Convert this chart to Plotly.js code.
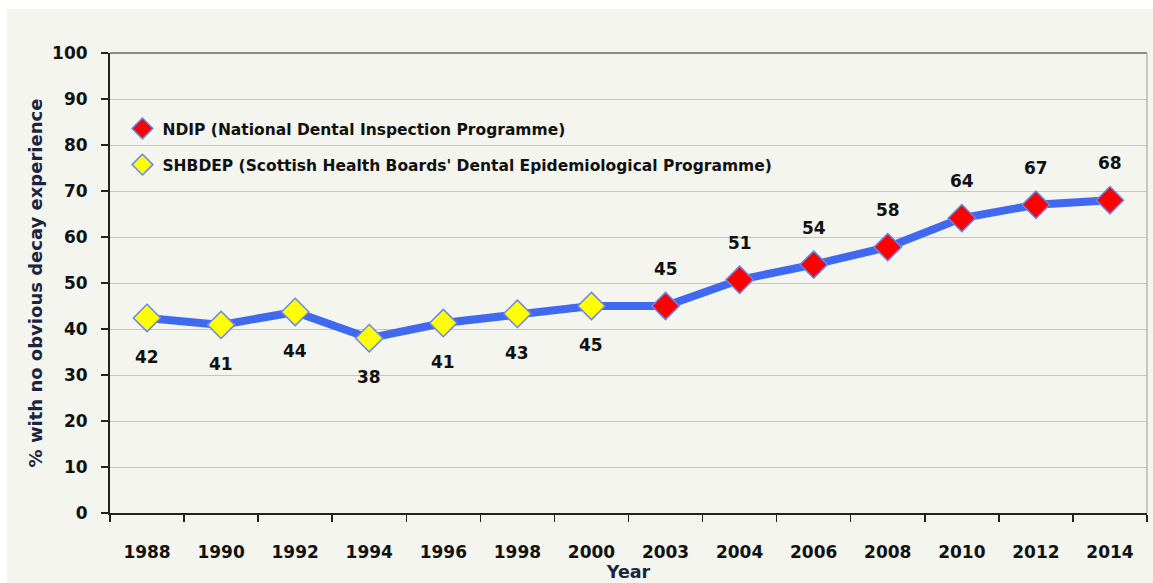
<!DOCTYPE html>
<html><head><meta charset="utf-8">
<script src="https://cdn.plot.ly/plotly-3.0.1.min.js"></script>
<style>
html,body{margin:0;padding:0;background:#ffffff;}
#chart{position:absolute;left:7px;top:9px;width:1146px;height:574px;}
</style></head>
<body><div id="chart"></div>
<script>
const years = ['1988','1990','1992','1994','1996','1998','2000','2003','2004','2006','2008','2010','2012','2014'];
const values = [42.4,40.9,43.7,38.0,41.3,43.3,45.0,45.0,50.7,54.0,57.8,64.1,67.0,68.0];
const labels = ['42','41','44','38','41','43','45','45','51','54','58','64','67','68'];
const shbdepYears = years.slice(0,7);
const shbdepValues = values.slice(0,7);
const ndipYears = years.slice(7);
const ndipValues = values.slice(7);

const font = 'DejaVu Sans, Verdana, sans-serif';
const traces = [
  {x: years, y: values, type:'scatter', mode:'lines', line:{color:'#4169f0', width:8}, showlegend:false, hoverinfo:'skip'},
  {x: ndipYears, y: ndipValues, type:'scatter', mode:'markers', name:'NDIP (National Dental Inspection Programme)',
   legendgroup:'a', marker:{symbol:'diamond', size:21, color:'#ff0000', line:{color:'#6a86e8', width:1.5}}},
  {x: shbdepYears, y: shbdepValues, type:'scatter', mode:'markers', name:"SHBDEP (Scottish Health Boards' Dental Epidemiological Programme)",
   legendgroup:'b', marker:{symbol:'diamond', size:21, color:'#ffff00', line:{color:'#6a86e8', width:1.5}}}
];
const annotations = years.map((yr,i)=>({
  x: i, y: values[i], text: labels[i], showarrow:false,
  yshift: i < 7 ? -39 : 37,
  font:{family:font, size:17, color:'#111111', weight:'bold'}
}));
const layout = {
  width:1146, height:574,
  paper_bgcolor:'#f3f5ee', plot_bgcolor:'#f3f5ee',
  margin:{l:103, r:6, t:44, b:70},
  showlegend:true,
  legend:{x:0.012, y:0.872, xanchor:'left', yanchor:'top', bgcolor:'rgba(0,0,0,0)',
    font:{family:font, size:15.5, color:'#111111', weight:'bold'}, traceorder:'grouped', tracegroupgap:13, itemwidth:30},
  xaxis:{type:'category', categoryorder:'array', categoryarray:years, range:[-0.5, years.length-0.5],
    tickson:'boundaries', ticks:'outside', ticklen:7, tickcolor:'#222', tickwidth:1.5,
    showline:true, linecolor:'#222', linewidth:2, showgrid:false, ticklabelstandoff:23,
    tickfont:{family:font, size:17, color:'#111111', weight:'bold'},
    title:{text:'Year', standoff:0, font:{family:font, size:17.5, color:'#1b2540', weight:'bold'}}},
  yaxis:{range:[0,100], dtick:10, ticks:'outside', ticklen:7, tickcolor:'#222', tickwidth:1.5,
    showline:true, linecolor:'#222', linewidth:2, gridcolor:'#c4c4c4', gridwidth:1, zeroline:false,
    ticklabelstandoff:10,
    tickfont:{family:font, size:17, color:'#111111', weight:'bold'},
    title:{text:'% with no obvious decay experience', standoff:5, font:{family:font, size:18, color:'#1b2540', weight:'bold'}}},
  shapes:[
    {type:'line', xref:'paper', yref:'paper', x0:0, x1:1, y0:1, y1:1, line:{color:'#888888', width:2}},
    {type:'line', xref:'paper', yref:'paper', x0:1, x1:1, y0:0, y1:1, line:{color:'#b8b8b8', width:1.5}}
  ],
  annotations: annotations
};
Plotly.newPlot('chart', traces, layout, {displayModeBar:false, staticPlot:true});
</script></body></html>
